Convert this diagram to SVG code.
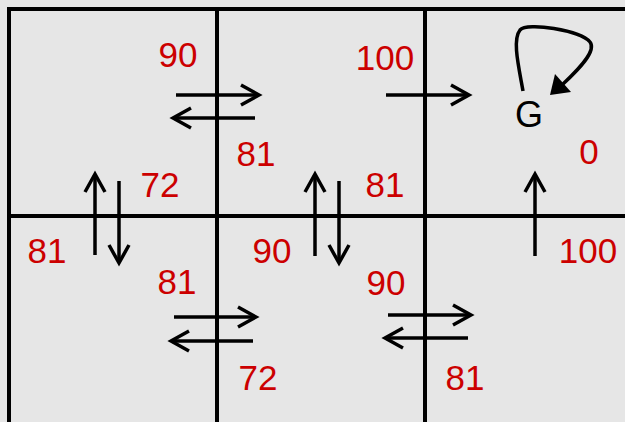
<svg xmlns="http://www.w3.org/2000/svg" width="625" height="422" viewBox="0 0 625 422">
<style>
.cell{fill:#e6e6e6;stroke:#000;stroke-width:4}
.v{font-family:"Liberation Sans",Arial,sans-serif;font-size:35px;fill:#cc0000;text-anchor:middle}
.g{font-family:"Liberation Sans",Arial,sans-serif;font-size:36px;fill:#000;text-anchor:middle}
.c{fill:none;stroke:#000;stroke-width:3.5}
</style>
<defs>
<marker id="ah" markerUnits="userSpaceOnUse" viewBox="-22 -12 26 24" refX="0" refY="0" markerWidth="26" markerHeight="24" orient="auto">
<path d="M-18,-10 L0,0 L-18,10" fill="none" stroke="#000" stroke-width="3.5" stroke-linejoin="miter"/>
</marker>
</defs>
<rect x="0" y="0" width="625" height="422" fill="#e6e6e6"/>
<g id="cell-1-1"><rect class="cell" x="9" y="9" width="208" height="207"/>
<text class="v" x="178" y="67">90</text><text class="v" x="160" y="197">72</text></g>
<g id="cell-1-2"><rect class="cell" x="217" y="9" width="208" height="207"/>
<text class="v" x="385" y="70">100</text><text class="v" x="256" y="166">81</text><text class="v" x="385" y="197">81</text></g>
<g id="cell-1-3"><rect class="cell" x="425" y="9" width="210" height="207"/>
<text class="g" x="529" y="127">G</text><text class="v" x="589" y="164">0</text></g>
<g id="cell-2-1"><rect class="cell" x="9" y="216" width="208" height="215"/>
<text class="v" x="47" y="263">81</text><text class="v" x="177" y="294">81</text></g>
<g id="cell-2-2"><rect class="cell" x="217" y="216" width="208" height="215"/>
<text class="v" x="272" y="263">90</text><text class="v" x="258" y="390">72</text><text class="v" x="386" y="295">90</text></g>
<g id="cell-2-3"><rect class="cell" x="425" y="216" width="210" height="215"/>
<text class="v" x="588" y="263">100</text><text class="v" x="465" y="390">81</text></g>
<g id="connectors" class="c">
<line x1="176" y1="95" x2="259" y2="95" marker-end="url(#ah)"/>
<line x1="255" y1="118" x2="173" y2="118" marker-end="url(#ah)"/>
<line x1="386" y1="95" x2="469" y2="95" marker-end="url(#ah)"/>
<line x1="95" y1="255" x2="95" y2="174" marker-end="url(#ah)"/>
<line x1="119" y1="181" x2="119" y2="263" marker-end="url(#ah)"/>
<line x1="315" y1="256" x2="315" y2="174" marker-end="url(#ah)"/>
<line x1="339" y1="181" x2="339" y2="263" marker-end="url(#ah)"/>
<line x1="535" y1="256" x2="535" y2="174" marker-end="url(#ah)"/>
<line x1="174" y1="317" x2="256" y2="317" marker-end="url(#ah)"/>
<line x1="253" y1="341" x2="171" y2="341" marker-end="url(#ah)"/>
<line x1="388" y1="315" x2="471" y2="315" marker-end="url(#ah)"/>
<line x1="468" y1="338" x2="385" y2="338" marker-end="url(#ah)"/>
<path d="M523,91 C519,68 512,40 520,30 C527,22 580,30 590,42 C597,51 578,70 563,84"/>
<polygon points="550,95 555,74 571,92" fill="#000" stroke="none"/>
</g>
</svg>
